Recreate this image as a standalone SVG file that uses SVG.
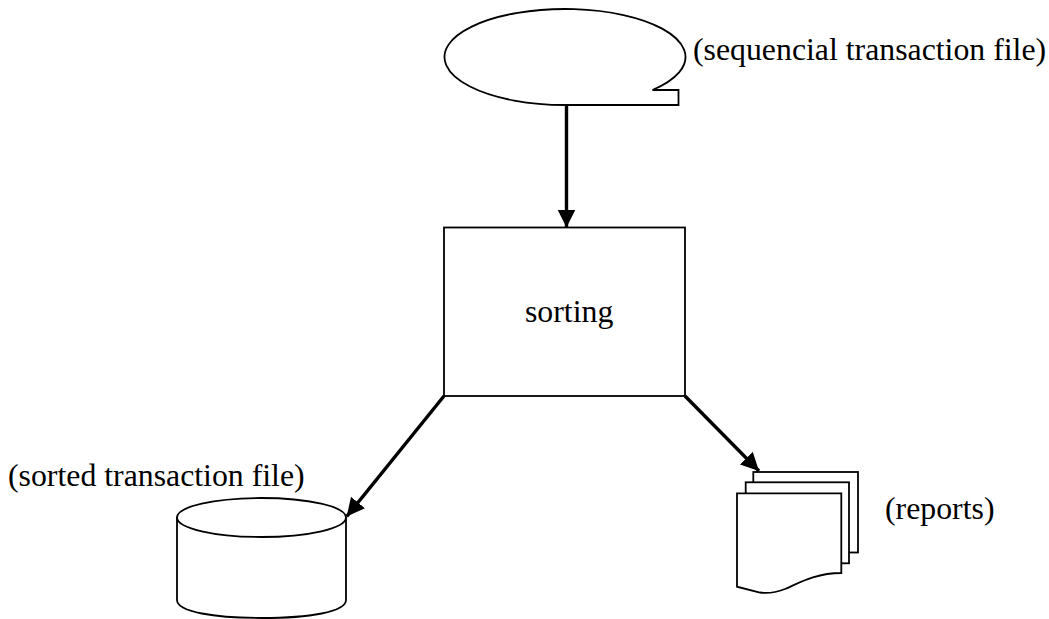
<svg xmlns="http://www.w3.org/2000/svg" width="1049" height="619" viewBox="0 0 1049 619">
<style>
.s{fill:#fff;stroke:#000;stroke-width:1.8}
.c{fill:none;stroke:#000;stroke-width:3.4}
text{font-family:"Liberation Serif","Times New Roman",serif;font-size:31.800px;fill:#000}
</style>
<defs><marker id="a" markerUnits="userSpaceOnUse" markerWidth="20" markerHeight="20" refX="18" refY="9" orient="auto"><path d="M0 0L18 9L0 18Z" fill="#000"/></marker></defs>
<rect width="1049" height="619" fill="#fff"/>
<g id="connectors">
<path class="c" d="M566.500 105V227.500" marker-end="url(#a)"/>
<path class="c" d="M444 396L346.700 516.500" marker-end="url(#a)"/>
<path class="c" d="M685 396L759 471" marker-end="url(#a)"/>
</g>
<g id="tape"><path class="s" d="M564.500 105A120.500 48 0 1 1 652.500 90H678.500V105Z"/><text x="693" y="60">(sequencial transaction file)</text></g>
<g id="sorting"><rect class="s" x="444" y="227.500" width="241" height="168.500"/><text x="525" y="322">sorting</text></g>
<g id="disk"><path class="s" d="M177 517V600C177 612 215 618 262 618C309 618 346 612 346 600V517"/><ellipse class="s" cx="261.500" cy="517.500" rx="84.500" ry="19.500"/><text x="8" y="485.500">(sorted transaction file)</text></g>
<g id="reports">
<rect class="s" x="753.300" y="472" width="104.700" height="80.500"/>
<rect class="s" x="745.700" y="482.300" width="103.300" height="81"/>
<path class="s" d="M737 493.300H841.300V573C815 573 797 584 785 589C772 594 763 593 760 592.500L737 586.700Z"/>
<text x="885" y="518.500">(reports)</text></g>
</svg>
